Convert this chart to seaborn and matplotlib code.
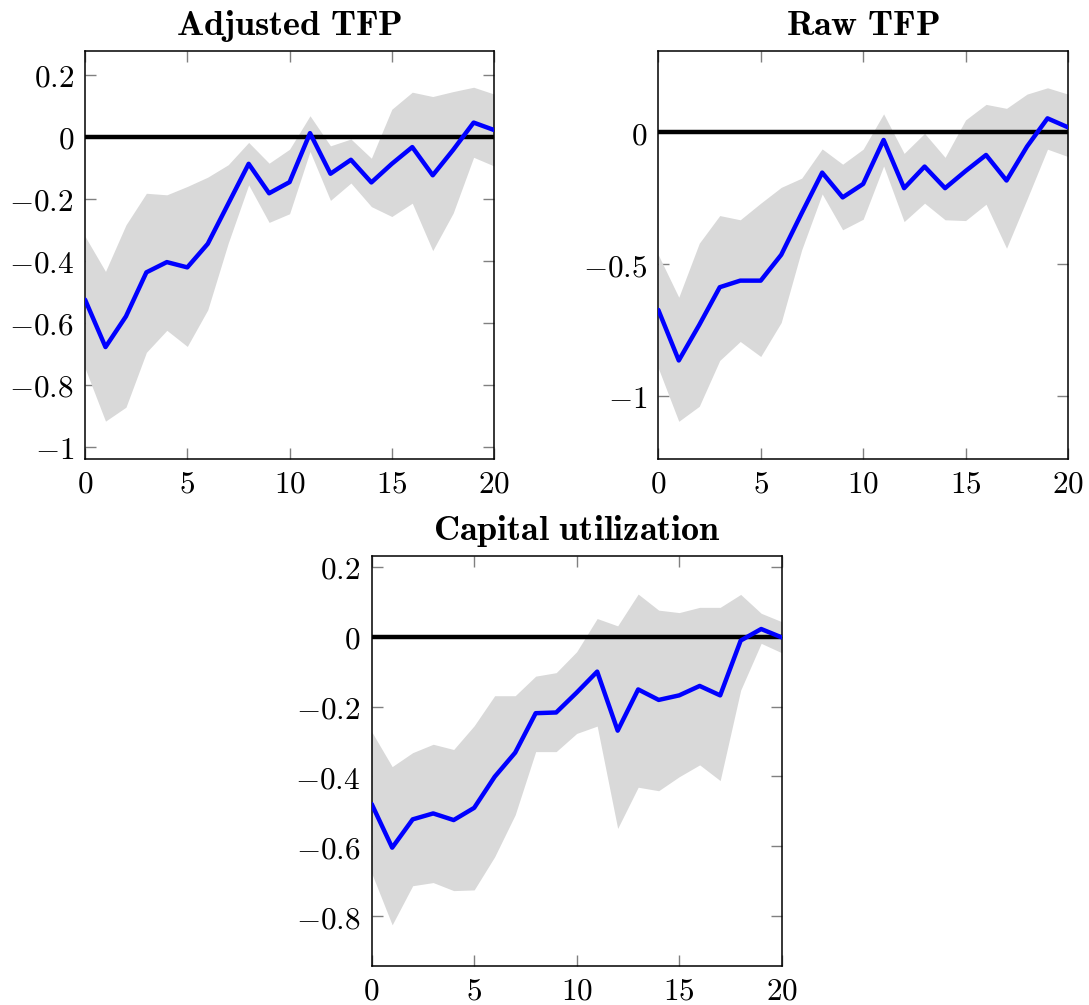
import numpy as np
import pandas as pd
import matplotlib
matplotlib.use("Agg")
import matplotlib.pyplot as plt
import seaborn as sns

# horizonte
horizon = list(range(21))

# Adjusted TFP
adj_tfp = [-0.526, -0.679, -0.580, -0.438, -0.405, -0.422, -0.346, -0.217, -0.088, -0.183, -0.147,
           0.011, -0.120, -0.075, -0.148, -0.088, -0.034, -0.125, -0.043, 0.045, 0.021]
adj_tfp_hi = [-0.322, -0.435, -0.285, -0.183, -0.188, -0.161, -0.131, -0.091, -0.019, -0.086, -0.041,
              0.067, -0.030, -0.008, -0.070, 0.088, 0.143, 0.129, 0.145, 0.159, 0.137]
adj_tfp_lo = [-0.747, -0.918, -0.873, -0.696, -0.625, -0.677, -0.559, -0.344, -0.156, -0.277, -0.249,
              -0.048, -0.206, -0.150, -0.226, -0.258, -0.215, -0.368, -0.247, -0.067, -0.095]

# Raw TFP
raw_tfp = [-0.674, -0.866, -0.731, -0.588, -0.563, -0.563, -0.465, -0.307, -0.153, -0.247, -0.196,
           -0.029, -0.212, -0.130, -0.212, -0.147, -0.086, -0.183, -0.054, 0.053, 0.019]
raw_tfp_hi = [-0.465, -0.626, -0.421, -0.316, -0.332, -0.269, -0.209, -0.174, -0.063, -0.121, -0.064,
              0.070, -0.080, -0.004, -0.095, 0.047, 0.106, 0.091, 0.145, 0.169, 0.145]
raw_tfp_lo = [-0.895, -1.097, -1.040, -0.866, -0.794, -0.851, -0.722, -0.446, -0.234, -0.370, -0.330,
              -0.128, -0.339, -0.269, -0.332, -0.335, -0.273, -0.440, -0.254, -0.064, -0.092]

# Capital utilization
cap_util = [-0.479, -0.604, -0.523, -0.506, -0.525, -0.490, -0.401, -0.332, -0.219, -0.217, -0.160,
            -0.100, -0.269, -0.151, -0.181, -0.168, -0.141, -0.168, -0.011, 0.022, -0.002]
cap_util_hi = [-0.272, -0.372, -0.332, -0.308, -0.323, -0.255, -0.169, -0.169, -0.113, -0.103, -0.043,
               0.052, 0.031, 0.122, 0.076, 0.069, 0.084, 0.084, 0.121, 0.067, 0.043]
cap_util_lo = [-0.677, -0.825, -0.713, -0.704, -0.727, -0.725, -0.630, -0.510, -0.329, -0.329, -0.277,
               -0.256, -0.549, -0.431, -0.441, -0.401, -0.367, -0.412, -0.153, -0.019, -0.046]

titles = ["Adjusted TFP", "Raw TFP", "Capital utilization"]
y_ticks = [[-1, -0.8, -0.6, -0.4, -0.2, 0, 0.2],
           [-1, -0.5, 0],
           [-0.8, -0.6, -0.4, -0.2, 0, 0.2]]
x_ticks = [0, 5, 10, 15, 20]

sns.set_theme(style="ticks")
plt.rcParams["mathtext.fontset"] = "cm"
plt.rcParams["font.family"] = ["DejaVu Serif"]
plt.rcParams["text.color"] = "black"
plt.rcParams["xtick.labelcolor"] = "black"
plt.rcParams["ytick.labelcolor"] = "black"

fig = plt.figure(figsize=(10.89, 10.05), dpi=100)
posiciones = [[0.0781, 0.5433, 0.3756, 0.4063],
              [0.6045, 0.5433, 0.3762, 0.4063],
              [0.3413, 0.0391, 0.3765, 0.4080]]
limites_y = [(-1.04, 0.277), (-1.24, 0.31), (-0.942, 0.232)]

series = [(adj_tfp, adj_tfp_lo, adj_tfp_hi),
          (raw_tfp, raw_tfp_lo, raw_tfp_hi),
          (cap_util, cap_util_lo, cap_util_hi)]


def etiqueta(v):
    if v == 0:
        return "$0$"
    return "$" + ("%g" % v) + "$"


for i in range(3):
    ax = fig.add_axes(posiciones[i])
    media, bajo, alto = series[i]
    df = pd.DataFrame({"h": horizon, "irf": media, "lo": bajo, "hi": alto})

    ax.fill_between(df["h"], df["lo"], df["hi"], color="#d9d9d9", linewidth=0, zorder=1)
    sns.lineplot(x=horizon, y=[0] * len(horizon), color="black", linewidth=3.2, ax=ax, zorder=2)
    sns.lineplot(data=df, x="h", y="irf", color="#0000ff", linewidth=3.2, ax=ax, zorder=3)

    ax.set_xlim(0, 20)
    ax.set_ylim(*limites_y[i])
    ax.set_xticks(x_ticks)
    ax.set_xticklabels([etiqueta(v) for v in x_ticks])
    ax.set_yticks(y_ticks[i])
    ax.set_yticklabels([etiqueta(v) for v in y_ticks[i]])
    ax.set_xlabel("")
    ax.set_ylabel("")
    ax.tick_params(direction="in", length=8, width=1, color="#808080",
                   top=True, right=True, labelsize=22.5, labelcolor="black")
    ax.tick_params(axis="y", pad=8)
    ax.tick_params(axis="x", pad=7)
    for sp in ax.spines.values():
        sp.set_visible(True)
        sp.set_linewidth(1.1)
        sp.set_color("black")
    ax.set_title(r"$\mathbf{" + titles[i].replace(" ", r"\ ") + "}$", fontsize=26,
                 pad=11, color="black")

plt.savefig("out.png", dpi=100)
plt.close()
